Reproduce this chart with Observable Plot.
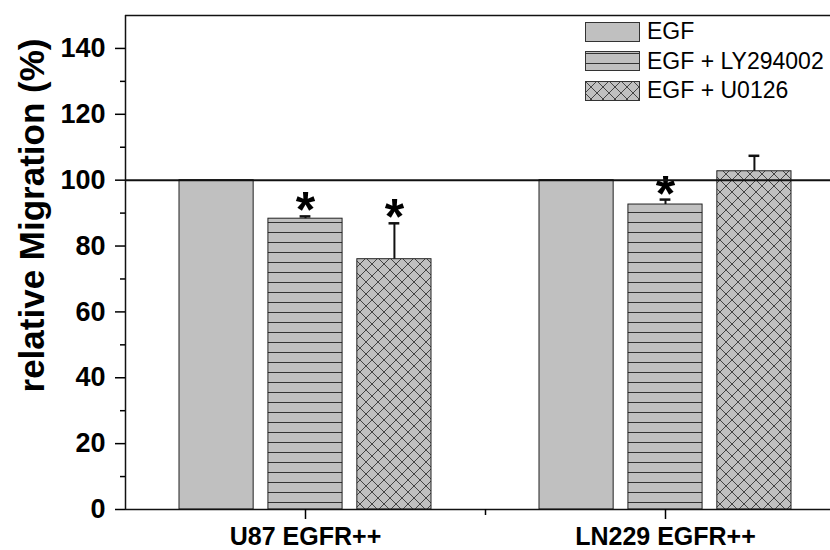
<!DOCTYPE html>
<html>
<head>
<meta charset="utf-8">
<script src="https://cdn.jsdelivr.net/npm/d3@7"></script>
<script src="https://cdn.jsdelivr.net/npm/@observablehq/plot@0.6"></script>
<style>
  body { margin: 0; background: #fff; }
  #wrap { position: relative; width: 830px; height: 550px; overflow: hidden; background: #fff;
          font-family: "Liberation Sans", Arial, sans-serif; }
  #legend { position: absolute; left: 585px; top: 17px; }
  .row { display: flex; align-items: center; height: 29.5px; white-space: nowrap; }
  .row svg { display: block; margin-right: 7px; }
  .row span { font-size: 23px; color: #000; }
</style>
</head>
<body>
<svg width="0" height="0" style="position:absolute">
  <defs>
    <pattern id="solid" patternUnits="userSpaceOnUse" width="10" height="10">
      <rect width="10" height="10" fill="#c0c0c0"/>
    </pattern>
    <pattern id="hlines" patternUnits="userSpaceOnUse" width="10" height="10">
      <rect width="10" height="10" fill="#c0c0c0"/>
      <line x1="0" y1="2.5" x2="10" y2="2.5" stroke="#333" stroke-width="1"/>
    </pattern>
    <pattern id="xhatch" patternUnits="userSpaceOnUse" width="12" height="12">
      <rect width="12" height="12" fill="#c0c0c0"/>
      <path d="M0,0L12,12M12,0L0,12" stroke="#444" stroke-width="1"/>
    </pattern>
  </defs>
</svg>
<div id="wrap"></div>
<script>
// ---- data ----
const groups = ["U87 EGFR++", "LN229 EGFR++"];
const treatments = ["EGF", "EGF + LY294002", "EGF + U0126"];
const u87Values = [100, 88.3, 76.0];
const u87Errors = [0, 0.7, 10.9];
const u87Significant = [false, true, true];
const ln229Values = [100, 92.6, 102.7];
const ln229Errors = [0, 1.5, 4.7];
const ln229Significant = [false, true, false];
const yMajorTicks = [0, 20, 40, 60, 80, 100, 120, 140];
const yMinorTicks = [10, 30, 50, 70, 90, 110, 130];
const yLabel = "relative Migration (%)";
const referenceLevel = 100;

// ---- layout / style ----
const patternFills = ["url(#solid)", "url(#hlines)", "url(#xhatch)"];
const slot = 0.247;   // spacing between bars within a group (x units)
const halfBar = 0.103; // half bar width (x units)
const capHalf = 0.015; // half error cap width (x units)
const xDomain = [0.5, 2.5];
const yDomain = [0, 150];
const font = "Liberation Sans, Arial, sans-serif";

const rows = [];
[[u87Values, u87Errors, u87Significant], [ln229Values, ln229Errors, ln229Significant]].forEach(([vals, errs, sig], gi) => {
  vals.forEach((v, ti) => rows.push({
    group: gi + 1, t: ti, value: v, err: errs[ti], sig: sig[ti],
    center: gi + 1 + (ti - 1) * slot
  }));
});
const errRows = rows.filter(d => d.err > 0);
const sigRows = rows.filter(d => d.sig);

const barMarks = treatments.map((t, i) =>
  Plot.rectY(rows.filter(d => d.t === i), {
    x1: d => d.center - halfBar, x2: d => d.center + halfBar, y: "value",
    fill: patternFills[i], stroke: "#222", strokeWidth: 1
  })
);

const chart = Plot.plot({
  width: 830, height: 550,
  marginLeft: 125, marginRight: 0, marginTop: 15, marginBottom: 41,
  x: {domain: xDomain, range: [125, 845], axis: null},
  y: {domain: yDomain, axis: null},
  style: {fontFamily: font, color: "#000", background: "#fff", overflow: "hidden"},
  marks: [
    ...barMarks,
    Plot.ruleX(errRows, {x: "center", y1: "value", y2: d => d.value + d.err, stroke: "#111", strokeWidth: 2}),
    Plot.ruleY(errRows, {y: d => d.value + d.err, x1: d => d.center - capHalf, x2: d => d.center + capHalf, stroke: "#111", strokeWidth: 2.5}),
    Plot.text(sigRows, {x: "center", y: d => d.value + d.err, text: () => "*", fontSize: 50, fontWeight: "bold", fill: "#000", dy: -5}),
    Plot.ruleY([referenceLevel], {stroke: "#111", strokeWidth: 2}),
    Plot.ruleY([yDomain[1]], {stroke: "#111", strokeWidth: 1.5}),
    Plot.ruleY([yDomain[0]], {stroke: "#111", strokeWidth: 1.5}),
    Plot.ruleX([xDomain[0]], {stroke: "#111", strokeWidth: 1.5}),
    Plot.axisY(yMinorTicks, {tickSize: 5, tickFormat: () => "", label: null, strokeWidth: 1.5}),
    Plot.axisY(yMajorTicks, {tickSize: 10, tickPadding: 10, fontSize: 27, fontWeight: "bold", label: null, strokeWidth: 1.5}),
    Plot.axisX([1, 2], {tickSize: 10, tickPadding: 8, tickFormat: v => groups[v - 1], fontSize: 25, fontWeight: "bold", label: null, strokeWidth: 1.5}),
    Plot.axisX([1.5], {tickSize: 6, tickFormat: () => "", label: null, strokeWidth: 1.5}),
    Plot.text([yLabel], {frameAnchor: "left", textAnchor: "middle", rotate: -90, dx: -93, dy: -47, fontSize: 35, fontWeight: "bold", fill: "#000"})
  ]
});

const wrap = document.getElementById("wrap");
wrap.appendChild(chart);

// legend (overlaid in the upper right, as in the reference)
const legend = document.createElement("div");
legend.id = "legend";
treatments.forEach((t, i) => {
  const row = document.createElement("div");
  row.className = "row";
  row.innerHTML = `<svg width="55" height="20"><rect x="0.5" y="0.5" width="54" height="19" fill="${patternFills[i]}" stroke="#333" stroke-width="1"/></svg><span>${t}</span>`;
  legend.appendChild(row);
});
wrap.appendChild(legend);
</script>
</body>
</html>
